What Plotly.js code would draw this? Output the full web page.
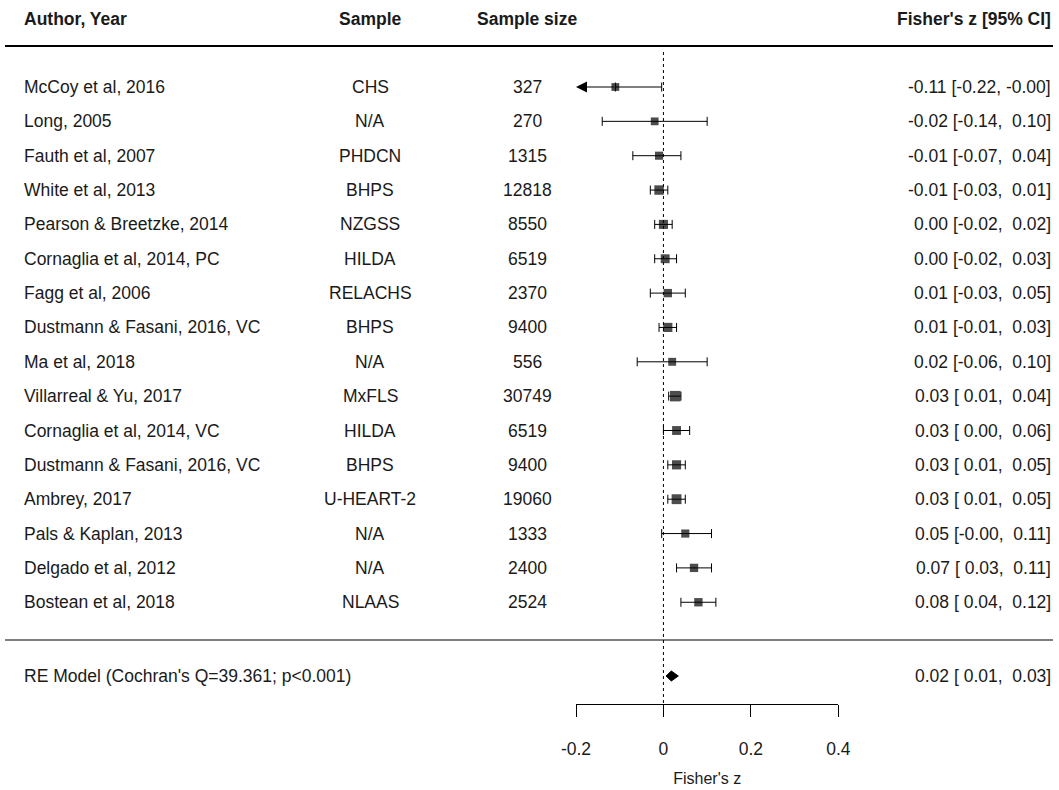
<!DOCTYPE html>
<html><head><meta charset="utf-8">
<script src="https://cdn.plot.ly/plotly-3.0.1.min.js"></script>
<style>html,body{margin:0;padding:0;background:#fff}</style>
</head><body><div id="chart" style="width:1059px;height:790px"></div>
<script>
const authors = ["McCoy et al, 2016","Long, 2005","Fauth et al, 2007","White et al, 2013","Pearson & Breetzke, 2014","Cornaglia et al, 2014, PC","Fagg et al, 2006","Dustmann & Fasani, 2016, VC","Ma et al, 2018","Villarreal & Yu, 2017","Cornaglia et al, 2014, VC","Dustmann & Fasani, 2016, VC","Ambrey, 2017","Pals & Kaplan, 2013","Delgado et al, 2012","Bostean et al, 2018"];
const samples = ["CHS","N/A","PHDCN","BHPS","NZGSS","HILDA","RELACHS","BHPS","N/A","MxFLS","HILDA","BHPS","U-HEART-2","N/A","N/A","NLAAS"];
const sampleSizes = [327,270,1315,12818,8550,6519,2370,9400,556,30749,6519,9400,19060,1333,2400,2524];
const estimates = [-0.11,-0.02,-0.01,-0.01,0.00,0.004,0.01,0.01,0.02,0.027,0.03,0.03,0.03,0.05,0.07,0.08];
const ciLower   = [-0.22,-0.14,-0.07,-0.03,-0.02,-0.02,-0.03,-0.01,-0.06,0.012,0.00,0.01,0.01,-0.004,0.03,0.04];
const ciUpper   = [-0.004,0.10,0.04,0.01,0.02,0.03,0.05,0.03,0.10,0.04,0.06,0.05,0.05,0.11,0.11,0.12];
const reLabel = "RE Model (Cochran's Q=39.361; p<0.001)";
const reEstimate = [0.018];
const reLower = [0.006];
const reUpper = [0.034];
const headers = ["Author, Year","Sample","Sample size","Fisher's z [95% CI]"];
const xTicks = [-0.2,0,0.2,0.4];
const xTickLabels = ["-0.2","0","0.2","0.4"];
const xLabel = "Fisher's z";

// ---- layout constants (pixel geometry -> row units) ----
const W = 1059, H = 790;
const rowPx = 34.35, row0Px = 87, axisPx = 704;
const toRow = px => (px - row0Px) / rowPx;
const alim = [xTicks[0], xTicks[xTicks.length-1]];
const FONT = "Liberation Sans, Arial, sans-serif";
const FS = 17.5;
const TXT = "#1a1a1a";

const rows = authors.map((_, i) => i);
const reRow = toRow(676);

const esc = s => s.replace(/&/g,"&amp;").replace(/</g,"&lt;").replace(/>/g,"&gt;");
const pad5 = v => { let s = v.toFixed(2); while (s.length < 5) s = "\u00a0" + s; return s; };
const ciText = (e,l,u) => e.toFixed(2) + " [" + pad5(l) + ",\u00a0" + pad5(u) + "]";

const maxN = Math.max(...sampleSizes);
const msize = sampleSizes.map(n => 7.5 + 3*Math.sqrt(n/maxN));

const inIdx = rows.filter(i => ciLower[i] >= alim[0]);
const clIdx = rows.filter(i => ciLower[i] < alim[0]);

const traces = [
  {
    type:'scatter', mode:'markers', x: inIdx.map(i=>estimates[i]), y: inIdx,
    marker:{symbol:'square', size: inIdx.map(i=>msize[i]), color:'#000', line:{width:0}},
    error_x:{type:'data', symmetric:false, array: inIdx.map(i=>ciUpper[i]-estimates[i]),
      arrayminus: inIdx.map(i=>estimates[i]-ciLower[i]), color:'#000', thickness:1, width:4.5},
    cliponaxis:false, hoverinfo:'skip', showlegend:false
  },
  {
    type:'scatter', mode:'markers', x: clIdx.map(i=>estimates[i]), y: clIdx,
    marker:{symbol:'square', size: clIdx.map(i=>msize[i]), color:'#000', line:{width:0}},
    error_x:{type:'data', symmetric:false, array: clIdx.map(i=>ciUpper[i]-estimates[i]),
      arrayminus: clIdx.map(()=>0), color:'#000', thickness:1, width:4.5},
    cliponaxis:false, hoverinfo:'skip', showlegend:false
  }
];
// diamond for RE model
const dh = 5 / rowPx;
traces.push({
  type:'scatter', mode:'lines', fill:'toself', fillcolor:'#000',
  x:[reLower[0], reEstimate[0], reUpper[0], reEstimate[0], reLower[0]],
  y:[reRow, reRow-dh, reRow, reRow+dh, reRow],
  line:{color:'#000', width:1}, cliponaxis:false, hoverinfo:'skip', showlegend:false
});

const ann = [];
const colX = {author: 22/W, sample: 370/W, size: 527/W, ci: 1053/W};
const headRow = toRow(19);
const hfont = {family: FONT, size: FS, color: TXT, weight: 'bold'};
ann.push({xref:'paper', yref:'y', x: colX.author, y: headRow, xanchor:'left', text:'<b>'+esc(headers[0])+'</b>', showarrow:false, font:hfont});
ann.push({xref:'paper', yref:'y', x: colX.sample, y: headRow, xanchor:'center', text:'<b>'+esc(headers[1])+'</b>', showarrow:false, font:hfont});
ann.push({xref:'paper', yref:'y', x: colX.size, y: headRow, xanchor:'center', text:'<b>'+esc(headers[2])+'</b>', showarrow:false, font:hfont});
ann.push({xref:'paper', yref:'y', x: colX.ci, y: headRow, xanchor:'right', text:'<b>'+esc(headers[3])+'</b>', showarrow:false, font:hfont});
const tfont = {family: FONT, size: FS, color: TXT};
rows.forEach(i => {
  ann.push({xref:'paper', yref:'y', x: colX.author, y: i, xanchor:'left', text: esc(authors[i]), showarrow:false, font:tfont});
  ann.push({xref:'paper', yref:'y', x: colX.sample, y: i, xanchor:'center', text: esc(samples[i]), showarrow:false, font:tfont});
  ann.push({xref:'paper', yref:'y', x: colX.size, y: i, xanchor:'center', text: String(sampleSizes[i]), showarrow:false, font:tfont});
  ann.push({xref:'paper', yref:'y', x: colX.ci, y: i, xanchor:'right', text: ciText(estimates[i], ciLower[i], ciUpper[i]), showarrow:false, font:tfont});
});
ann.push({xref:'paper', yref:'y', x: colX.author, y: reRow, xanchor:'left', text: esc(reLabel), showarrow:false, font:tfont});
ann.push({xref:'paper', yref:'y', x: colX.ci, y: reRow, xanchor:'right', text: ciText(reEstimate[0], reLower[0], reUpper[0]), showarrow:false, font:tfont});
// arrows for clipped CIs
clIdx.forEach(i => {
  ann.push({xref:'x', yref:'y', x: alim[0], y: i, axref:'x', ayref:'y', ax: estimates[i], ay: i,
    text:'', showarrow:true, arrowhead:2, arrowsize:2.2, arrowwidth:1, arrowcolor:'#000', standoff:0, startstandoff:0});
});

const shapes = [
  {type:'line', xref:'paper', yref:'y', x0: 5/W, x1: 1053/W, y0: toRow(46), y1: toRow(46), line:{color:'#000', width:2}},
  {type:'line', xref:'paper', yref:'y', x0: 5/W, x1: 1053/W, y0: toRow(640), y1: toRow(640), line:{color:'#000', width:1.2}},
  {type:'line', xref:'x', yref:'y', x0: 0, x1: 0, y0: toRow(52), y1: toRow(axisPx), line:{color:'#000', width:1, dash:'dot'}}
];

const layout = {
  width: W, height: H, margin:{l:0, r:0, t:0, b:0},
  paper_bgcolor:'#fff', plot_bgcolor:'rgba(0,0,0,0)', showlegend:false,
  font:{family: FONT, size: FS, color: TXT},
  xaxis:{domain:[576/W, 838.3/W], range: alim, showline:true, linecolor:'#000', linewidth:1,
    ticks:'outside', ticklen:12, tickwidth:1, tickcolor:'#000', tickvals: xTicks, ticktext: xTickLabels,
    showgrid:false, zeroline:false, tickfont:{family:FONT, size:FS, color:TXT}, ticklabelstandoff: 17,
    title:{text: xLabel, font:{family:FONT, size:16, color:TXT}, standoff: 14}, fixedrange:true},
  yaxis:{domain:[(H-axisPx)/H, 1], range:[toRow(axisPx), toRow(0)], visible:false, fixedrange:true},
  annotations: ann, shapes: shapes
};
Plotly.newPlot('chart', traces, layout, {staticPlot:true, displayModeBar:false});
</script></body></html>
